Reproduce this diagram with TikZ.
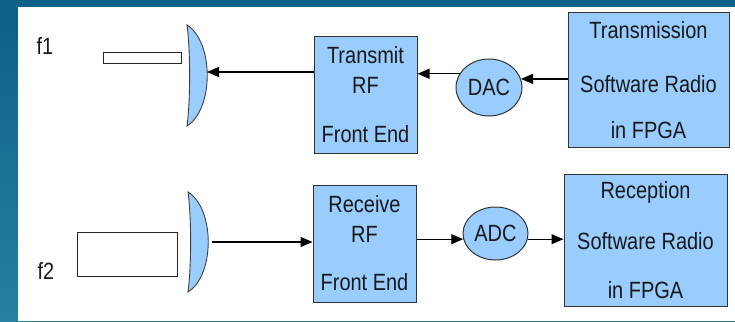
\documentclass[tikz,border=0pt]{standalone}
\usepackage{fontspec}
\setmainfont{Liberation Sans}[FakeStretch=0.85]
\usetikzlibrary{shapes.geometric, arrows.meta}

\definecolor{slideblue}{HTML}{0D6088}
\definecolor{slidebluelow}{HTML}{25819F}
\definecolor{blockblue}{HTML}{99CCFF}

\tikzset{
  blk/.style={draw=black!80, fill=blockblue, line width=1pt, align=center, inner sep=0pt},
  conv/.style={ellipse, draw=black!80, fill=blockblue, line width=1pt, inner sep=0pt},
  dish/.style={draw=black!75, fill=blockblue, line width=0.9pt},
  feed/.style={draw=black!85, fill=white, line width=1pt, inner sep=0pt},
  sig/.style={-{Triangle[length=12pt,width=10pt]}, line width=1.2pt},
}

\begin{document}
\begin{tikzpicture}[x=1pt, y=-1pt, font=\fontsize{23.5}{30}\selectfont, text=black!90]
    % slide frame
    \shade[top color=slideblue, bottom color=slidebluelow] (0,0) rectangle (735,321);
    \fill[white] (18,7) rectangle (735,321);
    \useasboundingbox (0,0) rectangle (735,321);

    % frequency labels and feeds
    \node (f1) at (45,46) {f1};
    \node (f2) at (46,271) {f2};
    \node[feed, minimum width=78pt, minimum height=10pt] (feed1) at (142,58) {};
    \node[feed, minimum width=100pt, minimum height=44pt] (feed2) at (127,254) {};

    % dishes
    \draw[dish] (187,25) .. controls (214,42) and (214,109) .. (187,126)
        .. controls (190.5,100) and (190.5,51) .. (187,25) -- cycle;
    \draw[dish] (188,192) .. controls (215,209) and (215,275) .. (188,292)
        .. controls (191.5,266) and (191.5,218) .. (188,192) -- cycle;
    \coordinate (ant1) at (207,72);
    \coordinate (ant2) at (212,242);

    % transmit chain
    \node[blk, minimum width=103pt, minimum height=116pt] (tx) at (365.5,95)
        {Transmit\\RF\\[19pt]Front End};
    \node[conv, minimum width=66pt, minimum height=57pt] (dac) at (489,87.5) {DAC};
    \node[blk, minimum width=161pt, minimum height=134pt] (ts) at (648.5,80)
        {Transmission\\[24pt]Software Radio\\[16pt]in FPGA};

    % receive chain
    \node[blk, minimum width=103pt, minimum height=117pt] (rx) at (364.5,243.5)
        {Receive\\RF\\[18pt]Front End};
    \node[conv, minimum width=65pt, minimum height=53pt] (adc) at (495.5,233.5) {ADC};
    \node[blk, minimum width=163pt, minimum height=132pt] (rs) at (645.5,240)
        {Reception\\[21pt]Software Radio\\[19pt]in FPGA};

    % signal flow
    \draw[sig] (ts.west |- dac.15) -- (dac.15);
    \draw[sig] (dac.155) -- (dac.155 -| tx.east);
    \draw[sig] (tx.west |- ant1) -- (ant1);
    \draw[sig] (ant2) -- (ant2 -| rx.west);
    \draw[sig] (rx.east |- adc.190) -- (adc.190);
    \draw[sig] (adc.350) -- (adc.350 -| rs.west);
\end{tikzpicture}
\end{document}
